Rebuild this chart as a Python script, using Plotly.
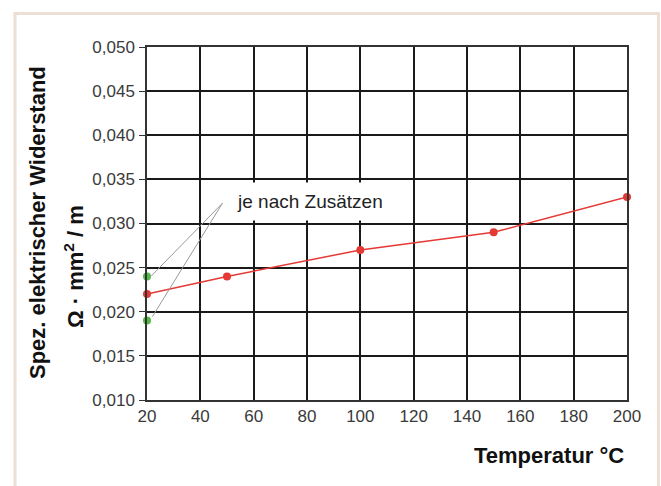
import plotly.graph_objects as go

# data
temps = [20, 50, 100, 150, 200]
resistivity = [0.022, 0.024, 0.027, 0.029, 0.033]
alt_temps = [20, 20]
alt_resistivity = [0.024, 0.019]
x_ticks = [20, 40, 60, 80, 100, 120, 140, 160, 180, 200]
y_ticks = [0.010, 0.015, 0.020, 0.025, 0.030, 0.035, 0.040, 0.045, 0.050]
note_text = "je nach Zusätzen"
leader_from = [(21.6, 0.02405), (22.0, 0.01944)]
leader_to = (48.3, 0.0323)

FONT = "Liberation Sans, Arial, sans-serif"
RED = "#E53935"
GREEN = "#55B947"

fig = go.Figure()
fig.add_trace(go.Scatter(x=temps, y=resistivity, mode="lines+markers",
                         line=dict(color=RED, width=1.5),
                         marker=dict(color=RED, size=8), cliponaxis=False,
                         showlegend=False, hoverinfo="skip"))
fig.add_trace(go.Scatter(x=alt_temps, y=alt_resistivity, mode="markers",
                         marker=dict(color=GREEN, size=8), cliponaxis=False,
                         showlegend=False, hoverinfo="skip"))

shapes = []
for (x0, y0) in leader_from:
    shapes.append(dict(type="line", xref="x", yref="y", x0=x0, y0=y0,
                       x1=leader_to[0], y1=leader_to[1],
                       line=dict(color="#9a9a9a", width=1), layer="above"))
# outer beige frame
shapes.append(dict(type="rect", xref="paper", yref="paper",
                   x0=(15 - 147) / 480, x1=(658.5 - 147) / 480,
                   y0=-0.3, y1=(400 - 13.5) / 353,
                   line=dict(color="#EDDFD4", width=3), layer="below"))

annotations = [
    dict(text=note_text, x=50.4, y=0.03244, xref="x", yref="y",
         xanchor="left", yanchor="middle", showarrow=False,
         font=dict(family=FONT, size=19, color="#222"),
         bgcolor="white", borderpad=8),
    dict(text="<b>Spez. elektrischer Widerstand</b>", textangle=-90,
         xref="paper", yref="paper", x=(37 - 147) / 480, y=(400 - 223) / 353,
         xanchor="center", yanchor="middle", showarrow=False,
         font=dict(family=FONT, size=22, color="#111")),
    dict(text="<b>Ω · mm<sup>2</sup> / m</b>", textangle=-90,
         xref="paper", yref="paper", x=(74 - 147) / 480, y=(400 - 267) / 353,
         xanchor="center", yanchor="middle", showarrow=False,
         font=dict(family=FONT, size=22, color="#111")),
    dict(text="<b>Temperatur °C</b>", xref="paper", yref="paper",
         x=(626 - 147) / 480, y=(400 - 455) / 353,
         xanchor="right", yanchor="middle", showarrow=False,
         font=dict(family=FONT, size=22, color="#111")),
]

fig.update_layout(
    width=661, height=486,
    margin=dict(l=147, r=34, t=47, b=86),
    paper_bgcolor="white", plot_bgcolor="white",
    separators=",.",
    shapes=shapes, annotations=annotations,
    font=dict(family=FONT, size=17, color="#333"),
)
fig.update_xaxes(range=[20, 200], tickvals=x_ticks, showgrid=True,
                 gridcolor="#1a1a1a", gridwidth=1.6, showline=True, mirror=True,
                 linecolor="#333", linewidth=1.5, ticks="", zeroline=False,
                 tickfont=dict(family=FONT, size=17, color="#3a3a3a"))
fig.update_yaxes(range=[0.010, 0.050], tickvals=y_ticks, tickformat=".3f",
                 showgrid=True, gridcolor="#1a1a1a", gridwidth=1.6,
                 showline=True, mirror=True, linecolor="#333", linewidth=1.5,
                 ticks="outside", ticklen=6, tickcolor="#333", zeroline=False,
                 ticklabelstandoff=1,
                 tickfont=dict(family=FONT, size=17, color="#3a3a3a"))

fig.write_html("out.html")
